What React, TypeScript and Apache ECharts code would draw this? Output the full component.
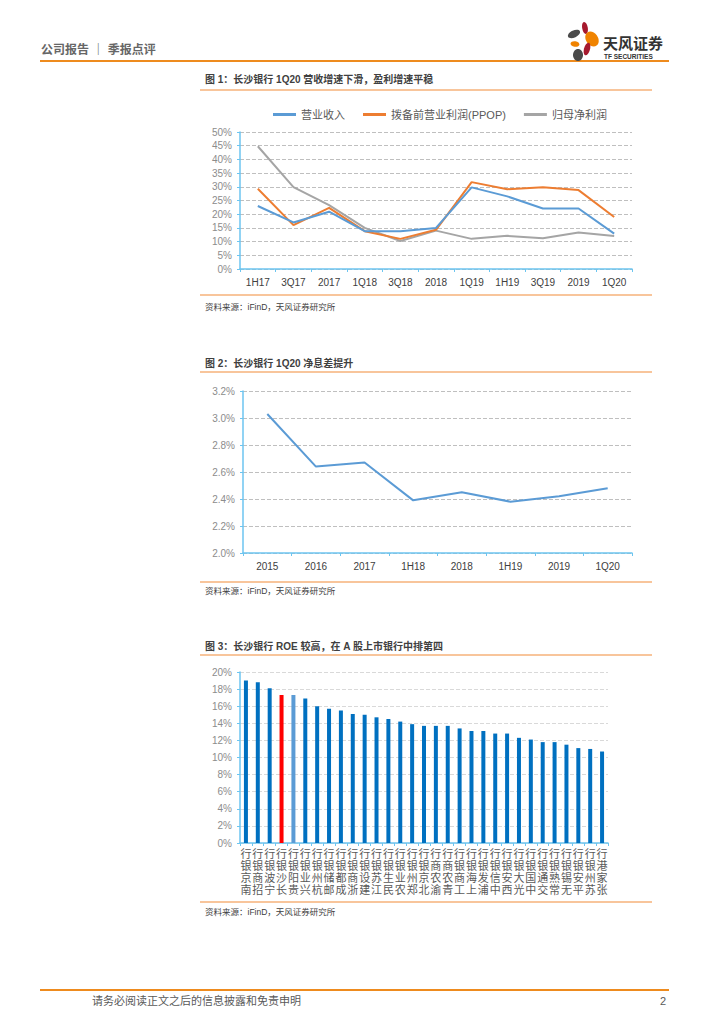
import React, { useEffect, useRef } from "react";
import * as echarts from "echarts";

const cat1 = ["1H17", "3Q17", "2017", "1Q18", "3Q18", "2018", "1Q19", "1H19", "3Q19", "2019", "1Q20"];
const revenue = [23.0, 17.0, 20.9, 13.8, 13.8, 15.0, 29.8, 26.5, 22.1, 22.1, 12.9];
const ppop = [29.3, 16.0, 22.3, 13.8, 11.0, 14.3, 31.7, 29.1, 29.8, 28.8, 19.0];
const netProfit = [44.8, 29.9, 23.3, 15.0, 10.2, 14.0, 11.0, 12.1, 11.2, 13.3, 12.0];
const seriesNames1 = ["营业收入", "拨备前营业利润(PPOP)", "归母净利润"];

const cat2 = ["2015", "2016", "2017", "1H18", "2018", "1H19", "2019", "1Q20"];
const nim = [3.03, 2.64, 2.67, 2.39, 2.45, 2.38, 2.42, 2.48];

const banks = [
  "南京银行", "招商银行", "宁波银行", "长沙银行", "贵阳银行", "兴业银行", "杭州银行", "邮储银行",
  "成都银行", "浙商银行", "建设银行", "江苏银行", "民生银行", "农业银行", "郑州银行", "北京银行",
  "渝农商行", "青农商行", "工商银行", "上海银行", "浦发银行", "中信银行", "西安银行", "光大银行",
  "中国银行", "交通银行", "常熟银行", "无锡银行", "平安银行", "苏州银行", "张家港行",
];
const roe = [
  19.0, 18.8, 18.1, 17.3, 17.3, 16.9, 16.0, 15.7, 15.5, 15.1, 15.0, 14.7, 14.5, 14.2, 13.9, 13.7,
  13.7, 13.7, 13.4, 13.1, 13.1, 12.8, 12.8, 12.3, 12.1, 11.8, 11.8, 11.5, 11.1, 11.0, 10.7,
];

const FONT = '"Liberation Sans", Arial, "Noto Sans CJK SC", sans-serif';
const AXIS_BLUE = "#6CC5F0";
const TITLE_LINE = "#F6B27A";

function txt(x: number, y: number, text: string, size: number, color: string, weight: any = "normal", align: any = "left") {
  return {
    type: "text",
    x,
    y,
    style: {
      text,
      fontSize: size,
      fill: color,
      fontWeight: weight,
      fontFamily: FONT,
      textAlign: align,
      textVerticalAlign: "middle",
    },
  };
}
function hline(x1: number, x2: number, y: number, color: string, w: number) {
  return { type: "line", shape: { x1, y1: y, x2, y2: y }, style: { stroke: color, lineWidth: w } };
}
function petal(cx: number, cy: number, rx: number, ry: number, rotDeg: number, color: string) {
  return {
    type: "group",
    x: cx,
    y: cy,
    rotation: (rotDeg * Math.PI) / 180,
    children: [{ type: "ellipse", shape: { cx: 0, cy: 0, rx, ry }, style: { fill: color } }],
  };
}

export default function App() {
  const ref = useRef<HTMLDivElement>(null);
  useEffect(() => {
    if (!ref.current) return;
    const chart = echarts.init(ref.current, null, { renderer: "svg" });
    const yLabel = { color: "#8C8C8C", fontSize: 10, fontFamily: FONT };
    const xLabel = { color: "#404040", fontSize: 10, fontFamily: FONT };
    const dashed = (c: string) => ({ show: true, lineStyle: { type: "dashed", color: c, width: 1 } });
    const axisLine = { show: true, lineStyle: { color: AXIS_BLUE, width: 1.5 } };
    const axisTick = { show: true, length: 3, lineStyle: { color: AXIS_BLUE } };

    const lineColors = ["#5B9BD5", "#ED7D31", "#A5A5A5"];
    const lineData = [revenue, ppop, netProfit];

    const bankColors = roe.map((_, i) => (i === 3 ? "#FF0000" : i === 4 ? "#5B9BD5" : "#0070C0"));

    chart.setOption({
      animation: false,
      textStyle: { fontFamily: FONT },
      legend: {
        data: seriesNames1,
        top: 104,
        left: 268,
        itemGap: 18,
        itemWidth: 23,
        itemHeight: 3,
        icon: "rect",
        textStyle: { color: "#595959", fontSize: 11, fontFamily: FONT },
      },
      grid: [
        { left: 240, right: 92, top: 132, height: 137 },
        { left: 243, right: 92, top: 391, height: 162 },
        { left: 240, right: 116, top: 672, height: 171 },
      ],
      xAxis: [
        {
          type: "category",
          gridIndex: 0,
          data: cat1,
          boundaryGap: true,
          axisLine,
          axisTick,
          axisLabel: { ...xLabel, margin: 8 },
        },
        {
          type: "category",
          gridIndex: 1,
          data: cat2,
          boundaryGap: true,
          axisLine,
          axisTick,
          axisLabel: { ...xLabel, margin: 8 },
        },
        {
          type: "category",
          gridIndex: 2,
          data: banks,
          boundaryGap: true,
          axisLine,
          axisTick,
          axisLabel: {
            ...xLabel,
            color: "#595959",
            fontSize: 11,
            lineHeight: 12,
            margin: 5,
            interval: 0,
            verticalAlign: "top",
            formatter: (v: string) => v.split("").reverse().join("\n"),
          },
        },
      ],
      yAxis: [
        {
          type: "value",
          gridIndex: 0,
          min: 0,
          max: 50,
          interval: 5,
          axisLine,
          axisTick,
          splitLine: dashed("#BFBFBF"),
          axisLabel: { ...yLabel, formatter: (v: number) => `${Math.round(v)}%` },
        },
        {
          type: "value",
          gridIndex: 1,
          min: 2.0,
          max: 3.2,
          interval: 0.2,
          axisLine,
          axisTick,
          splitLine: dashed("#BFBFBF"),
          axisLabel: { ...yLabel, formatter: (v: number) => `${v.toFixed(1)}%` },
        },
        {
          type: "value",
          gridIndex: 2,
          min: 0,
          max: 20,
          interval: 2,
          axisLine,
          axisTick,
          splitLine: dashed("#D9D9D9"),
          axisLabel: { ...yLabel, formatter: (v: number) => `${Math.round(v)}%` },
        },
      ],
      series: [
        ...seriesNames1.map((name, i) => ({
          name,
          type: "line",
          xAxisIndex: 0,
          yAxisIndex: 0,
          data: lineData[i],
          symbol: "none",
          lineStyle: { color: lineColors[i], width: 2 },
          itemStyle: { color: lineColors[i] },
          z: i === 2 ? 1 : 4 - i,
        })),
        {
          name: "净息差",
          type: "line",
          xAxisIndex: 1,
          yAxisIndex: 1,
          data: nim,
          symbol: "none",
          lineStyle: { color: "#5B9BD5", width: 2 },
        },
        {
          name: "ROE",
          type: "bar",
          xAxisIndex: 2,
          yAxisIndex: 2,
          barWidth: 4,
          data: roe.map((v, i) => ({ value: v, itemStyle: { color: bankColors[i] } })),
        },
      ],
      graphic: [
        // header
        txt(41, 50, "公司报告 ｜ 季报点评", 12, "#666666", "bold"),
        hline(40, 669, 61, "#EE8B1E", 2),
        petal(585, 28, 2.8, 6, 10, "#A6192E"),
        petal(574, 34, 6.5, 3.5, 25, "#4A4A4A"),
        petal(592, 39, 6, 8, 35, "#F08300"),
        petal(575, 44, 4.5, 2.8, -10, "#F08300"),
        petal(587, 49, 3, 6.5, -15, "#A6192E"),
        petal(578, 55, 5, 6, 0, "#4A4A4A"),
        txt(603, 43, "天风证券", 15, "#333333", "bold"),
        txt(604, 56, "TF SECURITIES", 6.5, "#333333", "bold"),
        // chart 1
        txt(205, 79, "图 1：长沙银行 1Q20 营收增速下滑，盈利增速平稳", 10, "#404040", "bold"),
        hline(200, 652, 90, TITLE_LINE, 1.5),
        hline(200, 652, 295, TITLE_LINE, 1.5),
        txt(205, 307, "资料来源：iFinD，天风证券研究所", 8.5, "#404040"),
        // chart 2
        txt(205, 363, "图 2：长沙银行 1Q20 净息差提升", 10, "#404040", "bold"),
        hline(200, 652, 372, TITLE_LINE, 1.5),
        hline(200, 652, 582, TITLE_LINE, 1.5),
        txt(205, 591, "资料来源：iFinD，天风证券研究所", 8.5, "#404040"),
        // chart 3
        txt(205, 646, "图 3：长沙银行 ROE 较高，在 A 股上市银行中排第四", 10, "#404040", "bold"),
        hline(200, 652, 655, TITLE_LINE, 1.5),
        hline(200, 652, 902, TITLE_LINE, 1.5),
        txt(205, 912, "资料来源：iFinD，天风证券研究所", 8.5, "#404040"),
        // footer
        hline(40, 669, 990, "#EE8B1E", 2),
        txt(92, 1001, "请务必阅读正文之后的信息披露和免责申明", 11, "#595959"),
        txt(666, 1001, "2", 11, "#595959", "normal", "right"),
      ],
    });
    return () => chart.dispose();
  }, []);
  return <div ref={ref} style={{ position: "absolute", left: 0, top: 0, width: 724, height: 1024 }} />;
}
